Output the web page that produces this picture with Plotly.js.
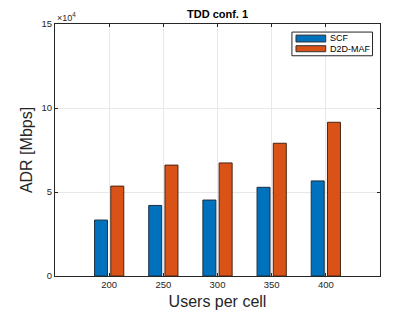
<!DOCTYPE html>
<html><head><meta charset="utf-8">
<script src="https://cdn.plot.ly/plotly-3.0.1.min.js"></script>
<style>html,body{margin:0;padding:0;background:#fff}#chart{width:420px;height:315px}</style>
</head><body><div id="chart"></div>
<script>
const users = [200, 250, 300, 350, 400];
const scf = [33300, 42000, 45200, 52800, 56600];
const d2dMaf = [53500, 66000, 67300, 79000, 91500];
const seriesNames = ['SCF', 'D2D-MAF'];
const seriesColors = ['#0072BD', '#D95319'];
const yTickVals = [0, 50000, 100000, 150000];
const yTickText = ['0', '5', '10', '15'];
const xTickVals = [200, 250, 300, 350, 400];

const FONT = 'Liberation Sans, Arial, Helvetica, sans-serif';
const axisCommon = {
  showline: true, linecolor: '#262626', linewidth: 1, mirror: 'ticks',
  ticks: 'inside', ticklen: 3, tickcolor: '#262626',
  showgrid: true, gridcolor: '#e8e8e8', gridwidth: 1, zeroline: false,
  tickfont: {family: FONT, size: 9.5, color: '#262626'}
};
const traces = [
  {type: 'bar', name: seriesNames[0], x: users, y: scf, width: 12, offset: -13.5,
   marker: {color: seriesColors[0], line: {color: '#1f2f3f', width: 1}}},
  {type: 'bar', name: seriesNames[1], x: users, y: d2dMaf, width: 12, offset: 1.5,
   marker: {color: seriesColors[1], line: {color: '#4a2410', width: 1}}}
];
// compact MATLAB-style legend drawn in paper coordinates
const lg = {x0: 0.729, x1: 0.977, y0: 0.874, y1: 0.968, px0: 0.7415, px1: 0.833,
  rows: [{y0: 0.9286, y1: 0.956, ty: 0.9425}, {y0: 0.890, y1: 0.9139, ty: 0.902}], tx: 0.8415};
const shapes = [{type: 'rect', xref: 'paper', yref: 'paper', x0: lg.x0, x1: lg.x1, y0: lg.y0, y1: lg.y1,
  line: {color: '#262626', width: 1}, fillcolor: '#fff'}];
const annotations = [
  {xref: 'paper', yref: 'paper', x: 0, y: 1, xanchor: 'left', yanchor: 'bottom',
   text: '×10<sup>4</sup>', showarrow: false, font: {family: FONT, size: 9, color: '#262626'}, yshift: -1}
];
seriesNames.forEach((n, i) => {
  const r = lg.rows[i];
  shapes.push({type: 'rect', xref: 'paper', yref: 'paper', x0: lg.px0, x1: lg.px1, y0: r.y0, y1: r.y1,
    line: {color: '#333', width: 1}, fillcolor: seriesColors[i]});
  annotations.push({xref: 'paper', yref: 'paper', x: lg.tx, y: r.ty, xanchor: 'left', yanchor: 'middle',
    text: n, showarrow: false, font: {family: FONT, size: 9, color: '#000'}});
});
const layout = {
  width: 420, height: 315,
  margin: {l: 55, r: 40, t: 24, b: 39},
  paper_bgcolor: '#fff', plot_bgcolor: '#fff',
  title: {text: '<b>TDD conf. 1</b>', font: {family: FONT, size: 11, color: '#000'}, x: 0.518, xanchor: 'center', y: 0.955, yanchor: 'middle'},
  xaxis: Object.assign({}, axisCommon, {
    range: [150, 450], tickvals: xTickVals, ticktext: xTickVals.map(String),
    title: {text: 'Users per cell', font: {family: FONT, size: 16, color: '#262626'}, standoff: 6}
  }),
  yaxis: Object.assign({}, axisCommon, {
    range: [0, 150000], tickvals: yTickVals, ticktext: yTickText,
    title: {text: 'ADR [Mbps]', font: {family: FONT, size: 16, color: '#262626'}, standoff: 4}
  }),
  showlegend: false,
  shapes: shapes,
  annotations: annotations
};
Plotly.newPlot('chart', traces, layout, {displayModeBar: false, staticPlot: true});
</script></body></html>
